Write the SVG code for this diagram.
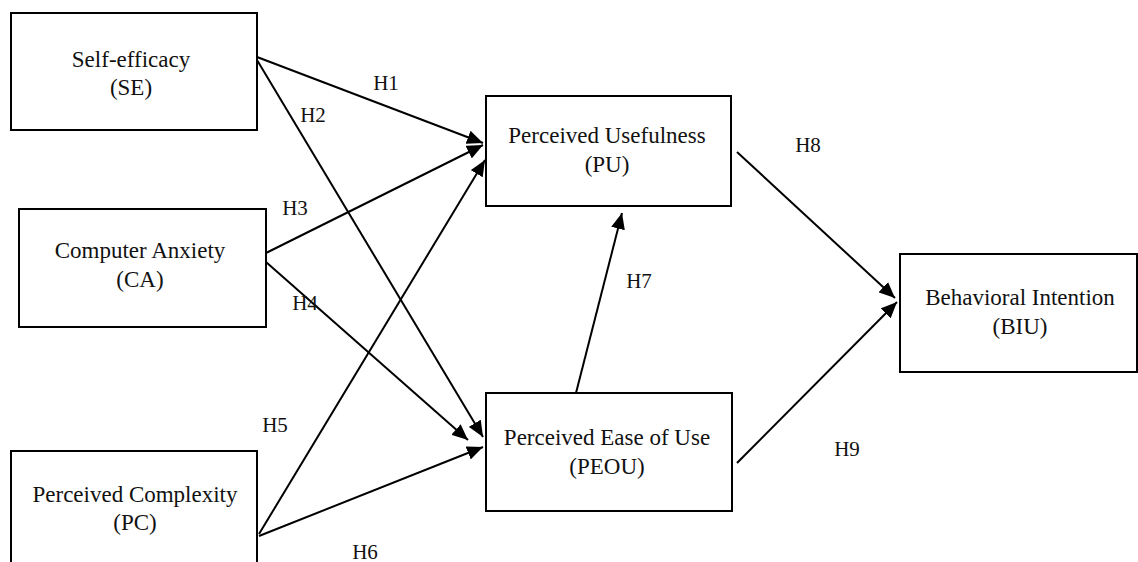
<svg xmlns="http://www.w3.org/2000/svg" width="1138" height="562" viewBox="0 0 1138 562">
<style>
.box{fill:#fff;stroke:#000;stroke-width:2}
.t{font-family:"Liberation Serif","Times New Roman",serif;font-size:23px;fill:#111;text-anchor:middle}
.h{font-family:"Liberation Serif","Times New Roman",serif;font-size:21px;fill:#111;text-anchor:middle}
.c{stroke:#000;stroke-width:2;fill:none;marker-end:url(#ah)}
</style>
<defs>
<marker id="ah" markerUnits="userSpaceOnUse" markerWidth="18" markerHeight="14" refX="16" refY="7" orient="auto">
<path d="M0,0 L16,7 L0,14 Z" fill="#000"/>
</marker>
</defs>
<rect width="1138" height="562" fill="#fff"/>
<g id="connectors">
<line class="c" x1="257" y1="57" x2="483" y2="143"/>
<line class="c" x1="257" y1="60" x2="483" y2="437"/>
<line class="c" x1="266" y1="253" x2="483" y2="145"/>
<line class="c" x1="266" y1="262" x2="468" y2="440"/>
<line class="c" x1="259" y1="534" x2="485" y2="160"/>
<line class="c" x1="259" y1="536" x2="483" y2="447"/>
<line class="c" x1="576" y1="393" x2="622" y2="213"/>
<line class="c" x1="737" y1="152" x2="895" y2="298"/>
<line class="c" x1="737" y1="463" x2="897" y2="302"/>
</g>
<g id="labels">
<text class="h" x="386" y="90">H1</text>
<text class="h" x="313" y="122">H2</text>
<text class="h" x="295" y="215">H3</text>
<text class="h" x="305" y="310">H4</text>
<text class="h" x="275" y="432">H5</text>
<text class="h" x="365" y="559">H6</text>
<text class="h" x="639" y="288">H7</text>
<text class="h" x="808" y="152">H8</text>
<text class="h" x="847" y="456">H9</text>
</g>
<g id="SE">
<rect class="box" x="11" y="13" width="246" height="117"/>
<text class="t" x="131" y="67">Self-efficacy</text>
<text class="t" x="131" y="95">(SE)</text>
</g>
<g id="CA">
<rect class="box" x="19" y="209" width="247" height="118"/>
<text class="t" x="140" y="258">Computer Anxiety</text>
<text class="t" x="140" y="287">(CA)</text>
</g>
<g id="PC">
<path class="box" d="M11,563 V451 H257 V563"/>
<text class="t" x="135" y="502">Perceived Complexity</text>
<text class="t" x="135" y="530">(PC)</text>
</g>
<g id="PU">
<rect class="box" x="486" y="96" width="245" height="110"/>
<text class="t" x="607" y="143">Perceived Usefulness</text>
<text class="t" x="607" y="172">(PU)</text>
</g>
<g id="PEOU">
<rect class="box" x="486" y="393" width="246" height="118"/>
<text class="t" x="607" y="445">Perceived Ease of Use</text>
<text class="t" x="607" y="474">(PEOU)</text>
</g>
<g id="BIU">
<rect class="box" x="900" y="254" width="237" height="118"/>
<text class="t" x="1020" y="305">Behavioral Intention</text>
<text class="t" x="1020" y="334">(BIU)</text>
</g>
</svg>
